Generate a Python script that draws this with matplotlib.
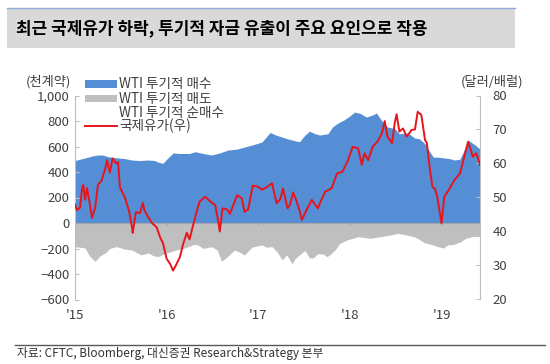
import matplotlib
matplotlib.use("Agg")
import matplotlib.pyplot as plt
from matplotlib.patches import Rectangle
from matplotlib.lines import Line2D
from matplotlib.ticker import FuncFormatter

plt.rcParams['font.family'] = ['Noto Sans CJK KR', 'DejaVu Sans']

# ---- data (decimal years) ----
buy_t = [2015.00, 2015.055, 2015.11, 2015.185, 2015.25, 2015.305, 2015.36, 2015.47, 2015.545, 2015.62,
         2015.71, 2015.80, 2015.87, 2015.905, 2015.96, 2016.00, 2016.07, 2016.145, 2016.25, 2016.31,
         2016.40, 2016.49, 2016.58, 2016.67, 2016.77, 2016.85, 2016.93, 2017.04, 2017.13, 2017.19,
         2017.26, 2017.32, 2017.40, 2017.45, 2017.51, 2017.56, 2017.62, 2017.67, 2017.76, 2017.81,
         2017.87, 2017.94, 2018.00, 2018.05, 2018.11, 2018.18, 2018.24, 2018.29, 2018.35, 2018.41,
         2018.49, 2018.54, 2018.63, 2018.71, 2018.76, 2018.82, 2018.87, 2018.91, 2018.98, 2019.03,
         2019.09, 2019.14, 2019.20, 2019.24, 2019.29, 2019.33, 2019.37, 2019.42]
buy_v = [490, 500, 510, 525, 533, 533, 520, 510, 505, 494,
         490, 494, 490, 478, 468, 500, 549, 545, 545, 559,
         545, 533, 550, 572, 580, 596, 611, 635, 710, 690,
         674, 660, 645, 637, 690, 720, 700, 690, 700, 753,
         784, 810, 840, 870, 860, 831, 845, 862, 800, 753,
         740, 700, 706, 666, 660, 620, 560, 517, 515, 510,
         505, 494, 500, 560, 650, 630, 610, 580]

sell_t = [2015.00, 2015.055, 2015.11, 2015.16, 2015.22, 2015.27, 2015.33, 2015.38, 2015.45, 2015.545,
          2015.62, 2015.72, 2015.80, 2015.85, 2015.905, 2015.98, 2016.09, 2016.20, 2016.30, 2016.34,
          2016.40, 2016.49, 2016.55, 2016.60, 2016.67, 2016.74, 2016.80, 2016.85, 2016.93, 2017.04,
          2017.09, 2017.15, 2017.21, 2017.26, 2017.31, 2017.37, 2017.40, 2017.45, 2017.51, 2017.56,
          2017.60, 2017.65, 2017.71, 2017.75, 2017.78, 2017.84, 2017.89, 2017.97, 2018.09, 2018.22,
          2018.33, 2018.44, 2018.52, 2018.62, 2018.71, 2018.82, 2018.90, 2018.96, 2019.02, 2019.07,
          2019.12, 2019.20, 2019.27, 2019.35, 2019.42]
sell_v = [-186, -190, -196, -260, -300, -260, -235, -200, -185, -205,
          -212, -250, -235, -255, -264, -240, -215, -195, -168, -172,
          -200, -186, -210, -300, -260, -212, -230, -251, -190, -172,
          -190, -185, -230, -290, -250, -320, -280, -250, -215, -275,
          -274, -240, -245, -264, -250, -210, -160, -133, -107, -120,
          -107, -95, -81, -94, -110, -157, -170, -186, -196, -170,
          -170, -150, -118, -105, -107]

oil_t = [2015.00, 2015.02, 2015.055, 2015.076, 2015.09, 2015.11, 2015.13, 2015.16, 2015.185, 2015.22,
         2015.25, 2015.29, 2015.33, 2015.35, 2015.38, 2015.41, 2015.45, 2015.47, 2015.49, 2015.545,
         2015.59, 2015.62, 2015.63, 2015.665, 2015.71, 2015.74, 2015.76, 2015.80, 2015.84, 2015.89,
         2015.93, 2015.96, 2016.00, 2016.04, 2016.07, 2016.10, 2016.145, 2016.18, 2016.22, 2016.25,
         2016.29, 2016.33, 2016.36, 2016.42, 2016.45, 2016.49, 2016.53, 2016.56, 2016.58, 2016.61,
         2016.66, 2016.69, 2016.77, 2016.82, 2016.85, 2016.89, 2016.94, 2016.995, 2017.04, 2017.09,
         2017.15, 2017.20, 2017.24, 2017.27, 2017.32, 2017.345, 2017.38, 2017.41, 2017.45, 2017.475,
         2017.53, 2017.585, 2017.65, 2017.70, 2017.73, 2017.80, 2017.86, 2017.92, 2017.98, 2018.03,
         2018.09, 2018.13, 2018.16, 2018.20, 2018.25, 2018.30, 2018.35, 2018.38, 2018.41, 2018.46,
         2018.49, 2018.51, 2018.54, 2018.58, 2018.62, 2018.675, 2018.71, 2018.74, 2018.78, 2018.82,
         2018.84, 2018.87, 2018.90, 2018.93, 2018.955, 2019.00, 2019.03, 2019.09, 2019.14, 2019.20,
         2019.23, 2019.29, 2019.32, 2019.34, 2019.38, 2019.42]
oil_v = [48.0, 46.3, 47.0, 52.5, 53.7, 49.3, 52.8, 48.4, 44.0, 47.0,
         53.7, 55.0, 58.5, 61.0, 57.3, 61.5, 60.0, 60.4, 53.0, 50.0,
         46.0, 41.5, 39.6, 45.7, 45.4, 48.4, 46.0, 44.2, 42.5, 41.3,
         38.2, 36.6, 32.0, 30.4, 28.5, 30.0, 32.5, 36.3, 39.6, 37.7,
         42.0, 46.0, 48.8, 50.2, 49.5, 48.5, 47.8, 43.4, 40.0, 46.8,
         46.5, 45.2, 50.7, 49.8, 45.8, 46.5, 53.5, 53.2, 52.3, 53.0,
         54.2, 48.3, 49.5, 52.7, 46.8, 47.8, 51.5, 49.5, 46.3, 43.4,
         46.5, 49.3, 46.8, 50.0, 51.7, 52.7, 57.1, 57.6, 61.0, 64.9,
         64.5, 59.6, 63.0, 61.0, 65.0, 66.4, 68.9, 72.5, 67.9, 66.0,
         72.0, 74.5, 69.4, 70.3, 67.9, 69.9, 70.0, 75.2, 74.3, 66.9,
         66.0, 59.0, 53.2, 52.5, 50.0, 42.4, 50.2, 52.7, 55.1, 57.0,
         60.0, 66.4, 64.0, 62.0, 63.0, 59.6]

year_ticks = [2015, 2016, 2017, 2018, 2019]
year_labels = ["'15", "'16", "'17", "'18", "'19"]
left_ticks = [-600, -400, -200, 0, 200, 400, 600, 800, 1000]
right_ticks = [20, 30, 40, 50, 60, 70, 80]

title = "최근 국제유가 하락, 투기적 자금 유출이 주요 요인으로 작용"
legend_labels = ["WTI 투기적 매수", "WTI 투기적 매도", "WTI 투기적 순매수", "국제유가(우)"]
source = "자료: CFTC, Bloomberg, 대신증권 Research&Strategy 본부"

BLUE = '#558ed5'
GRAY = '#bfbfbf'
RED = '#e8141c'
AXC = '#bfbfbf'
TXT = '#404040'

W, H = 550, 364
fig = plt.figure(figsize=(W / 100, H / 100), dpi=100)
fig.patch.set_facecolor('white')

def fx(px):
    return px / W

def fy(py):
    return 1 - py / H

# title band
fig.patches.append(Rectangle((fx(7), fy(48)), fx(508), 40 / H, transform=fig.transFigure,
                             facecolor='#d9d9d9', edgecolor='none', zorder=0))
fig.lines.append(Line2D([fx(7), fx(515)], [fy(8), fy(8)], transform=fig.transFigure,
                        color='#8eaadb', lw=1.0))
fig.text(fx(16), fy(28), title, fontsize=12.2, fontweight='bold', color='black',
         ha='left', va='center')

# axes
ax = fig.add_axes([fx(75), fy(299.5), fx(405), 204 / H])
ax.fill_between(buy_t, 0, buy_v, color=BLUE, lw=0, zorder=1)
ax.fill_between(sell_t, sell_v, 0, color=GRAY, lw=0, zorder=1)
ax.axhline(0, color='#a6a6a6', lw=0.8, zorder=2)
ax.set_xlim(2015.0, 2019.42)
ax.set_ylim(-600, 1000)
ax.set_yticks(left_ticks)
ax.yaxis.set_major_formatter(FuncFormatter(lambda v, p: f"{int(v):,}".replace('-', '\u2212')))
ax.set_xticks(year_ticks)
ax.set_xticklabels(year_labels)
ax.vlines(year_ticks, -14, 0, color='#a6a6a6', lw=0.8, zorder=2)
for s in ['top', 'bottom', 'right']:
    ax.spines[s].set_visible(False)
ax.spines['left'].set_color(AXC)
ax.spines['left'].set_linewidth(0.8)
ax.tick_params(axis='y', direction='in', length=3, color=AXC, labelsize=9.5,
               labelcolor=TXT, pad=4)
ax.tick_params(axis='x', length=0, labelsize=9.5, labelcolor=TXT, pad=7)
ax.patch.set_alpha(0)

ax2 = ax.twinx()
ax2.plot(oil_t, oil_v, color=RED, lw=1.4, zorder=3)
ax2.set_ylim(20, 80)
ax2.set_yticks(right_ticks)
for s in ['top', 'bottom', 'left']:
    ax2.spines[s].set_visible(False)
ax2.spines['right'].set_color(AXC)
ax2.spines['right'].set_linewidth(0.8)
ax2.tick_params(axis='y', direction='in', length=3, color=AXC, labelsize=9.5,
                labelcolor=TXT, pad=9)

# unit labels
fig.text(fx(48), fy(82), "(천계약)", fontsize=9.5, color=TXT, ha='center', va='center')
fig.text(fx(492), fy(82), "(달러/배럴)", fontsize=9.5, color=TXT, ha='center', va='center')

# legend (manual)
rows_y = [84, 98.5, 112.5, 125.5]
for i, (lab, yy) in enumerate(zip(legend_labels, rows_y)):
    if i == 0:
        fig.patches.append(Rectangle((fx(85), fy(yy + 3.5)), fx(32), 7 / H,
                                     transform=fig.transFigure, facecolor=BLUE, edgecolor='none'))
    elif i == 1:
        fig.patches.append(Rectangle((fx(85), fy(yy + 3.5)), fx(32), 7 / H,
                                     transform=fig.transFigure, facecolor=GRAY, edgecolor='none'))
    elif i == 3:
        fig.lines.append(Line2D([fx(85), fx(117)], [fy(yy), fy(yy)], transform=fig.transFigure,
                                color=RED, lw=1.4))
    fig.text(fx(119), fy(yy), lab, fontsize=9.8, color=TXT, ha='left', va='center')

# footer
fig.lines.append(Line2D([fx(15), fx(545)], [fy(345), fy(345)], transform=fig.transFigure,
                        color='#595959', lw=1.0))
fig.text(fx(17), fy(354), source, fontsize=8.5, color='#333333', ha='left', va='center')

fig.savefig('out.png', dpi=100)
